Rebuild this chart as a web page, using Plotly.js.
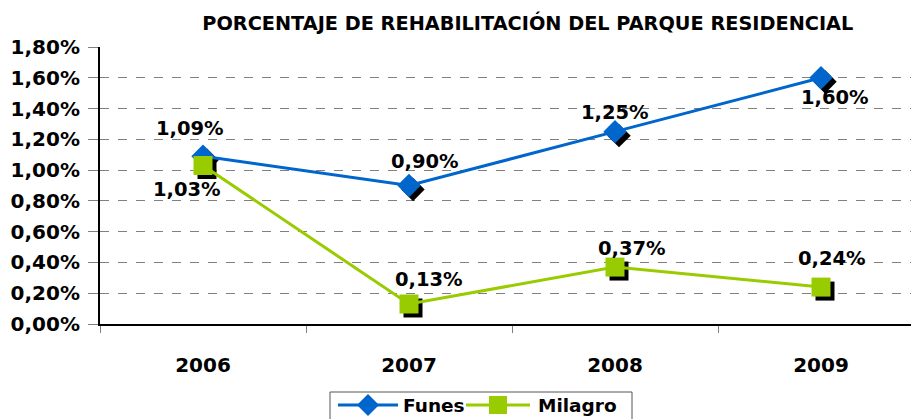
<!DOCTYPE html>
<html><head><meta charset="utf-8">
<script src="https://cdn.plot.ly/plotly-3.0.1.min.js"></script>
<style>html,body{margin:0;padding:0;background:#fff;}#chart{width:911px;height:419px;}</style>
</head><body><div id="chart"></div>
<script>
var years = ["2006","2007","2008","2009"];
var funes = [1.09, 0.90, 1.25, 1.60];
var milagro = [1.03, 0.13, 0.37, 0.24];
var yTicks = [0,0.2,0.4,0.6,0.8,1.0,1.2,1.4,1.6,1.8];
var seriesNames = ["Funes", "Milagro"];

var FONT = "'DejaVu Sans', sans-serif";
var blue = "#0066CC", green = "#99CC00";
var W = 911, H = 419, mL = 100, mT = 47, mB = 95;
var plotW = W - mL, plotH = H - mT - mB;
var catW = 206;
var xr = [-0.5, -0.5 + plotW / catW];
var yr = [0, 1.8];
var sh = 4;
var dx = sh / catW, dy = sh * (yr[1]-yr[0]) / plotH;

function fmt(v){ return v.toFixed(2).replace('.', ',') + '%'; }
function px(p){ return (p - mL) / plotW; }
function py(p){ return (mT + plotH - p) / plotH; }

var traces = [
  {x: years, y: funes, type:'scatter', mode:'markers', xaxis:'x', yaxis:'y', showlegend:false, hoverinfo:'skip',
   marker:{symbol:'diamond', size:18, color:'#000'}},
  {x: years, y: milagro, type:'scatter', mode:'markers', xaxis:'x', yaxis:'y', showlegend:false, hoverinfo:'skip',
   marker:{symbol:'square', size:19, color:'#000'}},
  {x: years, y: funes, name:seriesNames[0], type:'scatter', mode:'lines+markers', xaxis:'x2', yaxis:'y2',
   line:{color:blue, width:3}, marker:{symbol:'diamond', size:18, color:blue}},
  {x: years, y: milagro, name:seriesNames[1], type:'scatter', mode:'lines+markers', xaxis:'x2', yaxis:'y2',
   line:{color:green, width:3}, marker:{symbol:'square', size:19, color:green}}
];

var fOff = [[-13,-28],[16,-24],[0,-19],[14,20]];
var mOff = [[-16,24],[20,-24],[17,-19],[11,-29]];
var annotations = [];
function addLabels(vals, offs){
  vals.forEach(function(v,i){
    annotations.push({x: i, y: v, xref:'x2', yref:'y2', text: '<b>' + fmt(v) + '</b>', showarrow:false,
      xshift: offs[i][0], yshift: -offs[i][1], font:{family:FONT, size:19.5, color:'#000'}});
  });
}
addLabels(funes, fOff);
addLabels(milagro, mOff);

var legY = 405;
var shapes = [
  {type:'rect', xref:'paper', yref:'paper', x0:px(330), x1:px(632), y0:py(392), y1:py(430),
   line:{color:'#555', width:1}, fillcolor:'#fff', layer:'above'},
  {type:'line', xref:'paper', yref:'paper', x0:px(338), x1:px(398), y0:py(legY), y1:py(legY),
   line:{color:blue, width:3}, layer:'above'},
  {type:'path', xref:'paper', yref:'paper', xsizemode:'pixel', ysizemode:'pixel', xanchor:px(368), yanchor:py(legY),
   path:'M0,-11 L11,0 L0,11 L-11,0 Z', fillcolor:blue, line:{width:0}, layer:'above'},
  {type:'line', xref:'paper', yref:'paper', x0:px(466), x1:px(530), y0:py(legY), y1:py(legY),
   line:{color:green, width:3}, layer:'above'},
  {type:'rect', xref:'paper', yref:'paper', xsizemode:'pixel', ysizemode:'pixel', xanchor:px(498), yanchor:py(legY),
   x0:-9, x1:9, y0:-9, y1:9, fillcolor:green, line:{width:0}, layer:'above'}
];
annotations.push({xref:'paper', yref:'paper', x:px(401), y:py(legY), xanchor:'left', yanchor:'middle', showarrow:false,
  text:'<b>' + seriesNames[0] + '</b>', font:{family:FONT, size:18.5, color:'#000'}});
annotations.push({xref:'paper', yref:'paper', x:px(536), y:py(legY), xanchor:'left', yanchor:'middle', showarrow:false,
  text:'<b>' + seriesNames[1] + '</b>', font:{family:FONT, size:18.5, color:'#000'}});

var tickFont = {family:FONT, size:20, color:'#000', weight:'bold'};
var layout = {
  width: W, height: H,
  margin: {l: mL, r: 0, t: mT, b: mB},
  paper_bgcolor:'#fff', plot_bgcolor:'#fff',
  separators: ',.',
  font: {family: FONT, color:'#000'},
  title: {text:'<b>PORCENTAJE DE REHABILITACIÓN DEL PARQUE RESIDENCIAL</b>', font:{family:FONT, size:19.3, color:'#000'},
          x: 0.5275, xref:'paper', xanchor:'center', y: 0.945, yref:'container', yanchor:'middle'},
  xaxis: {type:'category', range:[xr[0]-dx, xr[1]-dx], visible:false, fixedrange:true},
  yaxis: {range:[yr[0]+dy, yr[1]+dy], visible:false, fixedrange:true},
  xaxis2: {type:'category', overlaying:'x', range: xr, showgrid:false, zeroline:false, showline:true, linecolor:'#000', linewidth:2,
          ticks:'outside', tickson:'boundaries', ticklen:7, tickcolor:'#808080', tickwidth:1, side:'bottom',
          tickfont:tickFont, ticklabelstandoff: 22, fixedrange:true},
  yaxis2: {overlaying:'y', side:'left', range: yr, tickvals: yTicks, ticktext: yTicks.map(fmt), showgrid:true, gridcolor:'#808080', griddash:'dash', gridwidth:1,
          zeroline:false, showline:true, linecolor:'#000', linewidth:2, ticks:'outside', ticklen:10, tickcolor:'#808080',
          tickfont:tickFont, ticklabelstandoff: 4, fixedrange:true},
  showlegend: false,
  shapes: shapes,
  annotations: annotations
};
Plotly.newPlot('chart', traces, layout, {displayModeBar:false, staticPlot:true});
</script></body></html>
